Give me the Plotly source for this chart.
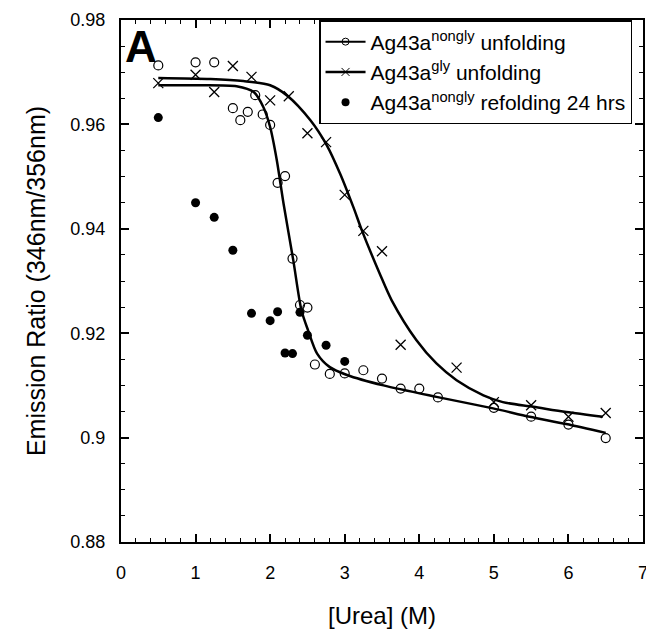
import plotly.graph_objects as go

# ---- data ----
nongly_unf_x = [0.5, 1.0, 1.25, 1.5, 1.6, 1.7, 1.8, 1.9, 2.0, 2.1, 2.2, 2.3, 2.4, 2.5,
                2.6, 2.8, 3.0, 3.25, 3.5, 3.75, 4.0, 4.25, 5.0, 5.5, 6.0, 6.5]
nongly_unf_y = [0.9713, 0.9719, 0.9719, 0.9631, 0.9608, 0.9624, 0.9656, 0.9619, 0.9599,
                0.9488, 0.9501, 0.9343, 0.9254, 0.9249, 0.9140, 0.9122, 0.9123, 0.9129,
                0.9113, 0.9094, 0.9094, 0.9077, 0.9057, 0.9040, 0.9025, 0.8999]

gly_unf_x = [0.5, 1.0, 1.25, 1.5, 1.75, 2.0, 2.25, 2.5, 2.75, 3.0, 3.25, 3.5, 3.75,
             4.5, 5.0, 5.5, 6.0, 6.5]
gly_unf_y = [0.9679, 0.9695, 0.9662, 0.9712, 0.9691, 0.9646, 0.9654, 0.9583, 0.9566,
             0.9465, 0.9396, 0.9357, 0.9178, 0.9134, 0.9068, 0.9062, 0.9040, 0.9047]

nongly_ref_x = [0.5, 1.0, 1.25, 1.5, 1.75, 2.0, 2.1, 2.2, 2.3, 2.4, 2.5, 2.75, 3.0]
nongly_ref_y = [0.9613, 0.9450, 0.9422, 0.9359, 0.9238, 0.9224, 0.9241, 0.9162, 0.9161,
                0.9240, 0.9196, 0.9177, 0.9146]

# fitted curves
fit_nongly_x = [0.5, 1.0, 1.55, 1.78, 1.91, 2.0, 2.09, 2.18, 2.31, 2.42, 2.51, 2.63,
                2.80, 3.03, 3.52, 4.23, 4.99, 5.48, 5.97, 6.5]
fit_nongly_y = [0.9675, 0.9675, 0.9673, 0.9662, 0.9633, 0.9595, 0.9531, 0.9448, 0.9340,
                0.9244, 0.9205, 0.9161, 0.9135, 0.9120, 0.9100, 0.9078, 0.9056, 0.9040,
                0.9026, 0.9009]

fit_gly_x = [0.5, 1.2, 1.64, 2.0, 2.23, 2.54, 2.76, 2.94, 3.12, 3.23, 3.47, 3.63, 3.96,
             4.23, 4.50, 4.86, 5.12, 5.53, 5.97, 6.46]
fit_gly_y = [0.9689, 0.9687, 0.9683, 0.9675, 0.9655, 0.9608, 0.9560, 0.9505, 0.9440,
             0.9397, 0.9314, 0.9263, 0.9187, 0.9142, 0.9110, 0.9081, 0.9068, 0.9059,
             0.9049, 0.9040]

legend_names = ["Ag43a<sup>nongly</sup> unfolding",
                "Ag43a<sup>gly</sup> unfolding",
                "Ag43a<sup>nongly</sup> refolding 24 hrs"]

x_ticks = [0, 1, 2, 3, 4, 5, 6, 7]
y_ticks = [0.88, 0.90, 0.92, 0.94, 0.96, 0.98]
y_ticklabels = ["0.88", "0.9", "0.92", "0.94", "0.96", "0.98"]

FONT = "Arial, Liberation Sans, sans-serif"

fig = go.Figure()

# fitted lines
fig.add_trace(go.Scatter(x=fit_nongly_x, y=fit_nongly_y, mode="lines",
                         line=dict(color="black", width=2.5, shape="spline", smoothing=0.8),
                         showlegend=False, hoverinfo="skip"))
fig.add_trace(go.Scatter(x=fit_gly_x, y=fit_gly_y, mode="lines",
                         line=dict(color="black", width=2.5, shape="spline", smoothing=0.8),
                         showlegend=False, hoverinfo="skip"))

# data points
fig.add_trace(go.Scatter(x=nongly_unf_x, y=nongly_unf_y, mode="markers",
                         marker=dict(symbol="circle-open", size=9, color="black",
                                     line=dict(width=1.2, color="black")),
                         showlegend=False))
fig.add_trace(go.Scatter(x=gly_unf_x, y=gly_unf_y, mode="markers",
                         marker=dict(symbol="x-thin", size=10, color="black",
                                     line=dict(width=1.3, color="black")),
                         showlegend=False))
fig.add_trace(go.Scatter(x=nongly_ref_x, y=nongly_ref_y, mode="markers",
                         marker=dict(symbol="circle", size=9, color="black"),
                         showlegend=False))

# legend entries
fig.add_trace(go.Scatter(x=[None], y=[None], mode="lines+markers", name=legend_names[0],
                         line=dict(color="black", width=2),
                         marker=dict(symbol="circle-open", size=7, color="black",
                                     line=dict(width=1, color="black"))))
fig.add_trace(go.Scatter(x=[None], y=[None], mode="lines+markers", name=legend_names[1],
                         line=dict(color="black", width=2.5),
                         marker=dict(symbol="x-thin", size=8, color="black",
                                     line=dict(width=1, color="black"))))
fig.add_trace(go.Scatter(x=[None], y=[None], mode="markers", name=legend_names[2],
                         marker=dict(symbol="circle", size=8, color="black")))

axis_common = dict(showline=True, linecolor="black", linewidth=2, mirror="allticks",
                   ticks="inside", ticklen=8, tickwidth=1.5, tickcolor="black",
                   showgrid=False, zeroline=False, automargin=False,
                   ticklabeloverflow="allow",
                   tickfont=dict(family=FONT, size=18, color="black"))

fig.update_xaxes(range=[0, 7], tickvals=x_ticks, ticklabelstandoff=13,
                 minor=dict(dtick=0.2, ticks="inside", ticklen=4, tickwidth=1.2,
                            tickcolor="black", showgrid=False),
                 title=dict(text="[Urea] (M)", font=dict(family=FONT, size=24, color="black"),
                            standoff=27),
                 **axis_common)
fig.update_yaxes(range=[0.88, 0.98], tickvals=y_ticks, ticktext=y_ticklabels,
                 ticklabelstandoff=10,
                 minor=dict(dtick=0.005, ticks="inside", ticklen=4, tickwidth=1.2,
                            tickcolor="black", showgrid=False),
                 title=dict(text="Emission Ratio (346nm/356nm)",
                            font=dict(family=FONT, size=25, color="black"), standoff=18),
                 **axis_common)

fig.add_annotation(x=0.003, y=1.0, xref="paper", yref="paper", xanchor="left", yanchor="top",
                   text="<b>A</b>", showarrow=False,
                   font=dict(family=FONT, size=44, color="black"))

fig.update_layout(
    width=646, height=629,
    margin=dict(l=121, r=3, t=20, b=87),
    paper_bgcolor="white", plot_bgcolor="white",
    font=dict(family=FONT, color="black"),
    legend=dict(x=0.979, y=1.0, xanchor="right", yanchor="top",
                bgcolor="white", bordercolor="black", borderwidth=1.5,
                font=dict(family=FONT, size=21, color="black"),
                tracegroupgap=0, itemwidth=40),
)

fig.write_html("out.html", config={"displayModeBar": False},
               post_script="document.body.style.margin='0';document.body.style.padding='0';")
